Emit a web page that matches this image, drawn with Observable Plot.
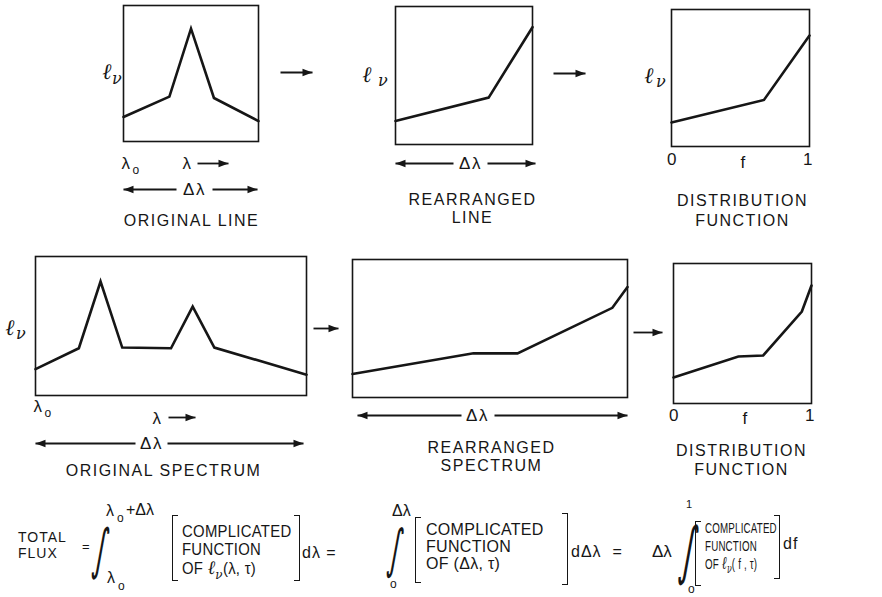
<!DOCTYPE html>
<html><head><meta charset="utf-8">
<script src="https://cdn.jsdelivr.net/npm/d3@7"></script>
<script src="https://cdn.jsdelivr.net/npm/@observablehq/plot@0.6"></script>
<style>
html,body{margin:0;padding:0;background:#fff;}
#fig{position:relative;width:882px;height:597px;overflow:hidden;font-family:"Liberation Sans",Arial,sans-serif;color:#161616;background:#fff;}
.t{position:absolute;white-space:nowrap;line-height:1;transform:translateY(-50%);}
.ell{font-family:"DejaVu Serif",serif;font-style:italic;}
.br{position:absolute;border:1.6px solid #161616;width:6px;box-sizing:border-box;}
</style></head><body><div id="fig"></div>
<script>
const INK = "#161616";

// ---- line shapes, in frame units (0..1) ----
const origLineX  = [0, 0.34, 0.5, 0.67, 1];
const origLineY  = [0.18, 0.33, 0.83, 0.32, 0.15];
const rearrLineX = [0, 0.68, 1];
const rearrLineY = [0.17, 0.34, 0.85];
const distLineX  = [0, 0.67, 1];
const distLineY  = [0.175, 0.34, 0.81];
const origSpecX  = [0, 0.16, 0.24, 0.32, 0.50, 0.58, 0.66, 1];
const origSpecY  = [0.19, 0.34, 0.82, 0.345, 0.34, 0.64, 0.345, 0.15];
const rearrSpecX = [0, 0.44, 0.60, 0.945, 1];
const rearrSpecY = [0.17, 0.32, 0.32, 0.65, 0.80];
const distSpecX  = [0, 0.47, 0.65, 0.93, 1];
const distSpecY  = [0.186, 0.336, 0.343, 0.657, 0.843];

// ---- texts ----
const captionLines = [["ORIGINAL LINE"], ["REARRANGED", "LINE"], ["DISTRIBUTION", "FUNCTION"],
                      ["ORIGINAL SPECTRUM"], ["REARRANGED", "SPECTRUM"], ["DISTRIBUTION", "FUNCTION"]];
const fTicks = ["0", "f", "1"];
const yLabel = ["ℓ", "ν"];
const lam = "λ", sub0 = "o", dLam = "Δλ";

const fig = document.getElementById("fig");

// arrowhead symbol, tip at origin, pointing right
const head = {draw(ctx) { ctx.moveTo(0, 0); ctx.lineTo(-10, -3.8); ctx.lineTo(-10, 3.8); ctx.closePath(); }};

const ML = 50, MR = 80, MT = 10, MB = 90;
function panel(p) {
  const {xs, ys, left, top, w, h, texts, arrows} = p;
  const X = rx => rx / w, Y = ry => 1 - ry / h;
  const pts = xs.map((x, i) => ({x, y: ys[i]}));
  const marks = [
    Plot.frame({stroke: INK, strokeWidth: 1.6}),
    Plot.line(pts, {x: "x", y: "y", stroke: INK, strokeWidth: 2.6, strokeLinejoin: "miter", strokeMiterlimit: 8})
  ];
  for (const t of texts) {
    marks.push(Plot.text([t], {x: d => X(d.rx), y: d => Y(d.ry), text: d => d.s,
      fontSize: t.size || 16, fontFamily: t.serif ? "DejaVu Serif" : "Liberation Sans",
      fontStyle: t.serif ? "italic" : "normal", fill: INK, textAnchor: "middle"}));
  }
  const segs = arrows.map(a => ({x1: X(a.from), x2: X(a.to), y: Y(a.ry), dir: a.to > a.from ? 0 : 180}));
  marks.push(Plot.link(segs, {x1: "x1", x2: "x2", y1: "y", y2: "y", stroke: INK, strokeWidth: 1.8}));
  marks.push(Plot.dot(segs, {x: "x2", y: "y", symbol: head, fill: INK, stroke: "none", rotate: "dir", r: 4}));
  const svg = Plot.plot({
    width: w + ML + MR, height: h + MT + MB,
    marginLeft: ML, marginRight: MR, marginTop: MT, marginBottom: MB,
    x: {domain: [0, 1], axis: null}, y: {domain: [0, 1], axis: null},
    style: {background: "transparent", overflow: "visible", fontFamily: "Liberation Sans", letterSpacing: "1.5px", color: INK},
    marks
  });
  svg.style.position = "absolute";
  svg.style.left = (left - ML) + "px";
  svg.style.top = (top - MT) + "px";
  svg.style.maxWidth = "none";
  fig.appendChild(svg);
}

const ellTexts = (a, b, c, d) => [{s: yLabel[0], rx: a, ry: b, size: 22, serif: true}, {s: yLabel[1], rx: c, ry: d, size: 16, serif: true}];
const lam0 = (a, b) => [{s: lam, rx: a, ry: b, size: 17}, {s: sub0, rx: a + 10, ry: b + 7, size: 12}];
const caps = (lines, rx, ry, step) => lines.map((s, i) => ({s, rx, ry: ry + i * step, size: 16}));
const ticks = (w, ry) => [{s: fTicks[0], rx: 1, ry, size: 17}, {s: fTicks[1], rx: w / 2 + 3, ry: ry + 3, size: 17}, {s: fTicks[2], rx: w - 1, ry, size: 17}];

panel({xs: origLineX, ys: origLineY, left: 123, top: 5, w: 135, h: 136,
  texts: [...ellTexts(-16, 66, -6, 73), ...lam0(3, 158), {s: lam, rx: 64, ry: 158, size: 17},
          {s: dLam, rx: 71, ry: 184, size: 17}, ...caps(captionLines[0], 68, 215, 18)],
  arrows: [{from: 74, to: 105, ry: 158}, {from: 53, to: 0, ry: 184}, {from: 89, to: 134, ry: 184}, {from: 157, to: 189, ry: 67}]});

panel({xs: rearrLineX, ys: rearrLineY, left: 395, top: 6, w: 137, h: 138,
  texts: [...ellTexts(-28, 68, -12, 74), {s: dLam, rx: 75, ry: 157, size: 17}, ...caps(captionLines[1], 77, 193, 18)],
  arrows: [{from: 58, to: 0, ry: 157}, {from: 92, to: 140, ry: 157}, {from: 158, to: 190, ry: 67}]});

panel({xs: distLineX, ys: distLineY, left: 671, top: 9, w: 138, h: 137,
  texts: [...ellTexts(-22, 66, -10, 72), ...ticks(138, 150), ...caps(captionLines[2], 71, 191, 20)],
  arrows: []});

panel({xs: origSpecX, ys: origSpecY, left: 35, top: 256, w: 271, h: 139,
  texts: [...ellTexts(-25, 71, -14, 77), ...lam0(3, 150), {s: lam, rx: 122, ry: 162, size: 17},
          {s: dLam, rx: 116, ry: 187, size: 17}, ...caps(captionLines[3], 128, 214, 18)],
  arrows: [{from: 133, to: 160, ry: 161}, {from: 100, to: 0, ry: 187}, {from: 132, to: 268, ry: 187}, {from: 278, to: 303, ry: 72}]});

panel({xs: rearrSpecX, ys: rearrSpecY, left: 352, top: 259, w: 275, h: 138,
  texts: [{s: dLam, rx: 125, ry: 156, size: 17}, ...caps(captionLines[4], 139, 188, 18)],
  arrows: [{from: 109, to: 5, ry: 156}, {from: 142, to: 275, ry: 156}, {from: 281, to: 310, ry: 73}]});

panel({xs: distSpecX, ys: distSpecY, left: 673, top: 263, w: 138, h: 140,
  texts: [...ticks(138, 152), ...caps(captionLines[5], 68, 187, 19)],
  arrows: []});

// ---- formula ----
const fnLines = ["COMPLICATED", "FUNCTION"];
const ofArgs = ['OF <span class="ell" style="font-size:1.2em">ℓ</span><sub style="font-size:0.8em;line-height:0" class="ell">ν</sub>(λ, τ)',
                'OF (Δλ, τ)',
                'OF <span class="ell" style="font-size:1.2em">ℓ</span><sub style="font-size:0.8em;line-height:0" class="ell">ν</sub>( f , τ)'];

function put(html, x, y, size, extra) {
  const d = document.createElement("div");
  d.className = "t"; d.innerHTML = html;
  d.style.left = x + "px"; d.style.top = y + "px"; d.style.fontSize = size + "px";
  if (extra) Object.assign(d.style, extra);
  fig.appendChild(d);
}
function bracket(x, top, h, side) {
  const d = document.createElement("div");
  d.className = "br";
  d.style.left = x + "px"; d.style.top = top + "px"; d.style.height = h + "px";
  if (side === "l") d.style.borderRight = "none"; else d.style.borderLeft = "none";
  fig.appendChild(d);
}
function block(x, ys, k, size, sx) {
  const st = {transform: `translateY(-50%) scaleX(${sx})`, transformOrigin: "0 50%", letterSpacing: "0.3px"};
  put(fnLines[0], x, ys[0], size, st);
  put(fnLines[1], x, ys[1], size, st);
  put(ofArgs[k], x, ys[2], size, st);
}
const integ = {fontFamily: "DejaVu Sans", lineHeight: "1", transform: "translateY(-50%) skewX(-9deg) scaleX(0.5)", transformOrigin: "0 50%"};

put("TOTAL", 18, 537, 14, {letterSpacing: "1px"});
put("FLUX", 18, 553, 14, {letterSpacing: "1px"});
put("=", 82, 546, 13);
put("∫", 94, 549, 55, integ);
put("λ", 106, 511, 16); put("o", 117, 518, 12); put("+Δλ", 126, 510, 16);
put("λ", 107, 578, 16); put("o", 118, 586, 12);
bracket(172, 515, 66, "l");
block(182, [532, 550, 568], 0, 16, 0.93);
bracket(294, 515, 66, "r");
put("dλ =", 302, 553, 16, {letterSpacing: "1px"});

put("Δλ", 392, 511, 16);
put("∫", 389, 548, 53, integ);
put("o", 390, 584, 12);
bracket(415, 517, 66, "l");
block(426, [530, 547, 564], 1, 16, 1.0);
bracket(562, 513, 72, "r");
put("dΔλ  =", 571, 552, 16, {letterSpacing: "1px", whiteSpace: "pre"});

put("Δλ", 652, 551, 17);
put("∫", 681, 550, 63, integ);
put("1", 686, 504, 11);
put("o", 688, 589, 12);
bracket(695, 521, 65, "l");
block(705, [527, 545, 563], 2, 15, 0.65);
bracket(774, 515, 64, "r");
put("df", 783, 544, 16, {letterSpacing: "1px"});
</script></body></html>
